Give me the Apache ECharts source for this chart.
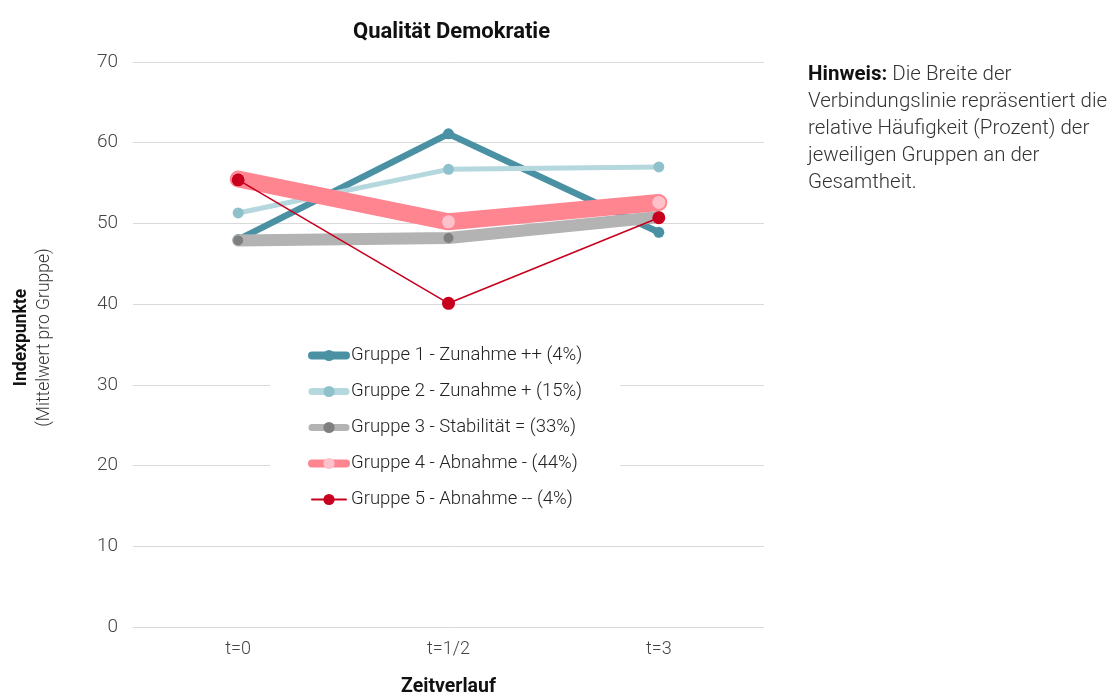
<!DOCTYPE html>
<html><head><meta charset="utf-8">
<script src="https://cdn.jsdelivr.net/npm/echarts@6/dist/echarts.min.js"></script>
<style>html,body{margin:0;padding:0;background:#fff}#c{width:1115px;height:696px}</style>
</head><body><div id="c"></div>
<script>
const categories = ['t=0', 't=1/2', 't=3'];
const seriesNames = ['Gruppe 1 - Zunahme ++ (4%)', 'Gruppe 2 - Zunahme + (15%)', 'Gruppe 3 - Stabilität = (33%)', 'Gruppe 4 - Abnahme - (44%)', 'Gruppe 5 - Abnahme -- (4%)'];
const g1 = [48.0, 61.1, 48.9];
const g2 = [51.3, 56.7, 57.0];
const g3 = [47.9, 48.2, 50.8];
const g4 = [55.5, 50.2, 52.6];
const g5 = [55.4, 40.1, 50.7];
const yTicks = [0, 10, 20, 30, 40, 50, 60, 70];

const FONT = 'Roboto';
const styles = [
  {line: '#4a91a3', mark: '#4a91a3', w: 6.5, s: 11, lw: 8},
  {line: '#b5d7de', mark: '#8fc1cd', w: 5, s: 11, lw: 7},
  {line: '#b3b3b3', mark: '#7f7f7f', w: 12, s: 10, lw: 7},
  {line: '#ff8591', mark: '#ffc2ca', w: 17, s: 13, lw: 8},
  {line: '#c8001e', mark: '#c8001e', w: 1.6, s: 13, lw: 2}
];
const dataSets = [g1, g2, g3, g4, g5];

const chart = echarts.init(document.getElementById('c'), null, {renderer: 'canvas'});
chart.setOption({
  animation: false,
  textStyle: {fontFamily: FONT},
  title: {
    text: 'Qualität Demokratie', left: 348, top: 16,
    textStyle: {fontFamily: FONT, fontSize: 22, fontWeight: 'bold', color: '#111'}
  },
  grid: {left: 133, right: 351, top: 62, bottom: 69, outerBoundsMode: 'none', containLabel: false},
  legend: {
    orient: 'vertical', left: 270, top: 324,
    backgroundColor: '#fff',
    padding: [22, 38, 18, 38],
    itemWidth: 34, itemHeight: 14, itemGap: 17,
    selectedMode: false,
    textStyle: {fontFamily: FONT, fontSize: 18.5, fontWeight: 300, color: '#222'},
    data: seriesNames.map((n, i) => ({
      name: n,
      lineStyle: {width: styles[i].lw, color: styles[i].line},
      itemStyle: {color: styles[i].mark}
    }))
  },
  xAxis: {
    type: 'category', data: categories, boundaryGap: true,
    name: 'Zeitverlauf', nameLocation: 'middle', nameGap: 50,
    nameTextStyle: {fontFamily: FONT, fontSize: 19.5, fontWeight: 'bold', color: '#111'},
    axisLine: {show: false}, axisTick: {show: false},
    axisLabel: {fontFamily: FONT, fontSize: 18, fontWeight: 300, color: '#444', margin: 13}
  },
  yAxis: {
    type: 'value', min: yTicks[0], max: yTicks[yTicks.length - 1], interval: 10,
    name: '{b|Indexpunkte}\n{n|(Mittelwert pro Gruppe)}',
    nameLocation: 'middle', nameRotate: 90, nameGap: 77,
    nameTextStyle: {
      padding: [0, 0, 0, 14],
      rich: {
        b: {fontFamily: FONT, fontSize: 17.5, fontWeight: 'bold', color: '#111', lineHeight: 23},
        n: {fontFamily: FONT, fontSize: 17.5, fontWeight: 300, color: '#333', lineHeight: 23}
      }
    },
    axisLine: {show: false}, axisTick: {show: false},
    splitLine: {lineStyle: {color: '#d9d9d9', width: 1}},
    axisLabel: {fontFamily: FONT, fontSize: 19, fontWeight: 300, color: '#444', margin: 15}
  },
  graphic: [{
    type: 'text', left: 808, top: 61,
    style: {
      text: '{b|Hinweis:} Die Breite der\nVerbindungslinie repräsentiert die\nrelative Häufigkeit (Prozent) der\njeweiligen Gruppen an der\nGesamtheit.',
      font: '300 20.5px Roboto', fill: '#333', lineHeight: 27,
      rich: {b: {fontFamily: FONT, fontSize: 20.5, fontWeight: 'bold', fill: '#111', lineHeight: 27}}
    }
  }],
  series: dataSets.map((d, i) => ({
    name: seriesNames[i], type: 'line', data: d,
    symbol: 'circle', symbolSize: styles[i].s, showAllSymbol: true,
    lineStyle: {width: styles[i].w, color: styles[i].line, cap: 'round', join: 'round'},
    itemStyle: {color: styles[i].mark},
    z: 2 + i
  }))
});
</script></body></html>
